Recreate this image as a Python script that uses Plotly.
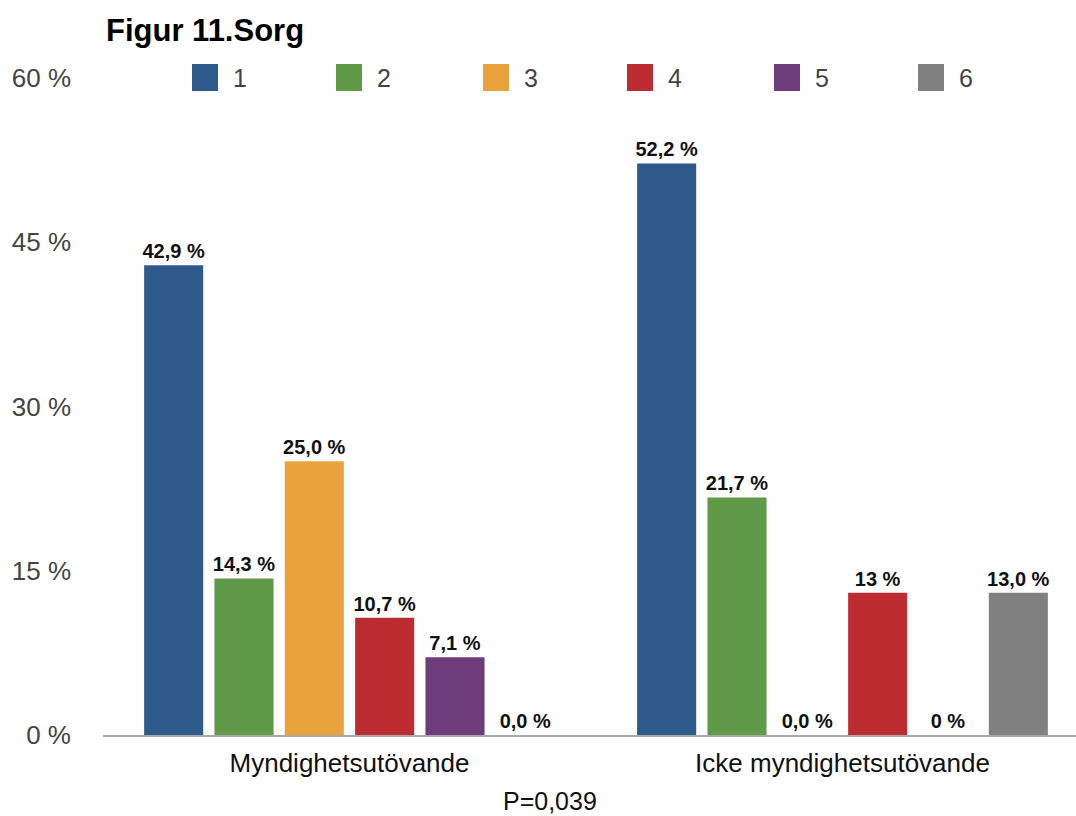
import plotly.graph_objects as go

# Data
categories = ["Myndighetsutövande", "Icke myndighetsutövande"]
series_names = ["1", "2", "3", "4", "5", "6"]
values = [
    [42.9, 52.2],
    [14.3, 21.7],
    [25.0, 0.0],
    [10.7, 13.0],
    [7.1, 0.0],
    [0.0, 13.0],
]
value_labels = [
    ["42,9 %", "52,2 %"],
    ["14,3 %", "21,7 %"],
    ["25,0 %", "0,0 %"],
    ["10,7 %", "13 %"],
    ["7,1 %", "0 %"],
    ["0,0 %", "13,0 %"],
]
y_ticks = [0, 15, 30, 45, 60]
y_tick_labels = ["0 %", "15 %", "30 %", "45 %", "60 %"]
title_text = "Figur 11.Sorg"
note_text = "P=0,039"

colors = ["#2E5A8B", "#5E9A48", "#E8A33D", "#BD2C31", "#6E3B7B", "#808080"]

W, H = 1076, 816
ML, MR, MT, MB = 103, 0, 78, 81
PW, PH = W - ML - MR, H - MT - MB
CAT_PX = 493  # pixels per category slot


def px_x(px):
    return (px - ML) / PW


def px_y(py):
    return (H - MB - py) / PH


FONT = "Liberation Sans, Arial, sans-serif"

fig = go.Figure()
xpos = list(range(len(categories)))
for name, vals, labels, col in zip(series_names, values, value_labels, colors):
    fig.add_trace(go.Bar(
        x=xpos, y=vals, name=name, marker=dict(color=col, line=dict(width=0)),
        text=labels, textposition="outside", cliponaxis=False,
        constraintext="none",
        textfont=dict(family=FONT, size=20, color="#111111", weight="bold"),
        showlegend=False,
    ))

# Custom legend: large squares with labels
legend_x = [192, 336, 483, 627, 774, 918]
shapes = []
annotations = []
for lx, name, col in zip(legend_x, series_names, colors):
    shapes.append(dict(type="rect", xref="paper", yref="paper",
                       x0=px_x(lx), x1=px_x(lx + 26), y0=px_y(91), y1=px_y(64),
                       fillcolor=col, line=dict(width=0)))
    annotations.append(dict(xref="paper", yref="paper", x=px_x(lx + 39), y=px_y(78),
                            xanchor="left", yanchor="middle", text=name, showarrow=False,
                            font=dict(family=FONT, size=25, color="#444444")))

annotations.append(dict(xref="paper", yref="paper", x=px_x(104), y=px_y(30),
                        xanchor="left", yanchor="middle", text=f"<b>{title_text}</b>",
                        showarrow=False, font=dict(family=FONT, size=31, color="#000000")))
annotations.append(dict(xref="paper", yref="paper", x=px_x(550), y=px_y(801),
                        xanchor="center", yanchor="middle", text=note_text,
                        showarrow=False, font=dict(family=FONT, size=25, color="#111111")))

fig.update_layout(
    width=W, height=H,
    margin=dict(l=ML, r=MR, t=MT, b=MB, pad=0),
    paper_bgcolor="white", plot_bgcolor="white",
    barmode="group", bargap=0.144, bargroupgap=0.16,
    shapes=shapes, annotations=annotations,
    xaxis=dict(
        range=[-0.5, -0.5 + PW / CAT_PX],
        tickvals=xpos, ticktext=categories,
        showgrid=False, zeroline=False,
        showline=True, linecolor="#AAAAAA", linewidth=1.5,
        ticks="", tickfont=dict(family=FONT, size=26, color="#111111"),
        ticklabelstandoff=4,
    ),
    yaxis=dict(
        range=[0, 60], tickvals=y_ticks, ticktext=y_tick_labels,
        showgrid=False, zeroline=False, showline=False, ticks="",
        tickfont=dict(family=FONT, size=26, color="#444444"),
        ticklabelstandoff=31,
    ),
)

fig.write_html("out.html")
